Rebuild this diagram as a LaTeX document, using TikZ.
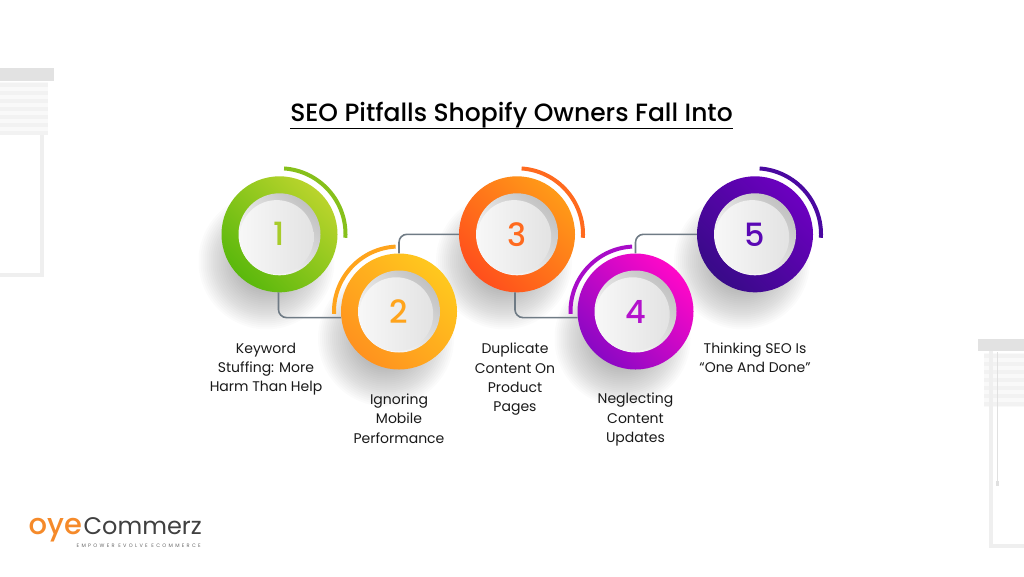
\documentclass[tikz,border=0pt]{standalone}
\usepackage{fontspec}
\setmainfont{Poppins}
\newfontfamily\medfont{Poppins Medium}
\newfontfamily\tagfont[LetterSpace=46]{Poppins}
\usetikzlibrary{backgrounds,calc}
\definecolor{linegray}{HTML}{6F7B85}
\definecolor{blindbar}{HTML}{E2E2E2}
\definecolor{blindbase}{HTML}{F9F9F9}
\definecolor{blindslat}{HTML}{F2F2F2}
\definecolor{windowgray}{HTML}{EFEFEF}
\definecolor{greenA}{HTML}{BAD42C}
\definecolor{greenB}{HTML}{5AB80C}
\definecolor{greenC}{HTML}{86C01A}
\definecolor{greenD}{HTML}{A8CC2A}
\definecolor{amberA}{HTML}{FFC81E}
\definecolor{amberB}{HTML}{FF921E}
\definecolor{amberC}{HTML}{FFA41C}
\definecolor{redA}{HTML}{FF9A18}
\definecolor{redB}{HTML}{FF4F1C}
\definecolor{redC}{HTML}{FF6A1E}
\definecolor{pinkA}{HTML}{FF08C8}
\definecolor{pinkB}{HTML}{8A08C4}
\definecolor{pinkC}{HTML}{A80CC8}
\definecolor{pinkD}{HTML}{B412CC}
\definecolor{purpleA}{HTML}{6C00C0}
\definecolor{purpleB}{HTML}{380A88}
\definecolor{purpleC}{HTML}{4A08A0}
\definecolor{purpleD}{HTML}{5A08B4}
\definecolor{logoorange}{HTML}{F58A2A}
\tikzset{
	ring/.style={circle,inner sep=0pt,minimum size=116pt},
	rim/.style={circle,inner sep=0pt,minimum size=82pt,top color=black!24,bottom color=white,shading angle=-45},
	face/.style={circle,inner sep=0pt,minimum size=74pt,left color=black!3,right color=black!11},
	digit/.style={inner sep=0pt,font=\medfont\fontsize{32}{32}\selectfont},
	link/.style={draw=linegray,line width=1.6pt,rounded corners=8pt},
	arcline/.style={line width=4pt},
	caption/.style={inner sep=0pt,align=center,text=black!90,font=\fontsize{14}{19.3}\selectfont},
	windowline/.style={draw=windowgray,line width=3.8pt}
}
\begin{document}
\begin{tikzpicture}[x=1pt,y=1pt]
		\useasboundingbox (0,0) rectangle (1024,-576);
		% title
		\node[inner sep=0pt,font=\medfont\fontsize{25}{25}\selectfont](title) at (511.5,-115.5){SEO Pitfalls Shopify Owners Fall Into};
		\draw[line width=1.5pt] (title.south west)--(title.south east);
		% rings
		\node[ring,top color=greenA,bottom color=greenB,shading angle=-45](c1) at (279.5,-234.3){};
		\node[ring,top color=amberA,bottom color=amberB,shading angle=-45](c2) at (399,-311.5){};
		\node[ring,top color=redA,bottom color=redB,shading angle=-45](c3) at (517,-234.3){};
		\node[ring,top color=pinkA,bottom color=pinkB,shading angle=-45](c4) at (635.5,-311.5){};
		\node[ring,top color=purpleA,bottom color=purpleB,shading angle=-45](c5) at (755,-234.3){};
		\node[rim](r1) at (c1){};
		\node[rim](r2) at (c2){};
		\node[rim](r3) at (c3){};
		\node[rim](r4) at (c4){};
		\node[rim](r5) at (c5){};
		\node[face](f1) at ($(c1)+(-2.8,-2.8)$){};
		\node[face](f2) at ($(c2)+(-2.8,-2.8)$){};
		\node[face](f3) at ($(c3)+(-2.8,-2.8)$){};
		\node[face](f4) at ($(c4)+(-2.8,-2.8)$){};
		\node[face](f5) at ($(c5)+(-2.8,-2.8)$){};
		\node[digit,text=greenD](n1) at (c1){1};
		\node[digit,text=amberC](n2) at (c2){2};
		\node[digit,text=redC](n3) at (c3){3};
		\node[digit,text=pinkD](n4) at (c4){4};
		\node[digit,text=purpleD](n5) at (c5){5};
		% connectors
		\draw[link] (c1.269)|-(c2.186);
		\draw[link] (c2.north)|-(c3.west);
		\draw[link] (c3.268)|-(c4.186);
		\draw[link] (c4.north)|-(c5.west);
		% arcs
		\draw[arcline,color=greenC] ($(c1)+(86:66)$) arc[start angle=86,end angle=-3,radius=66];
		\draw[arcline,color=amberC] ($(c2)+(182:65)$) arc[start angle=182,end angle=93,radius=65];
		\draw[arcline,color=redC] ($(c3)+(86:66)$) arc[start angle=86,end angle=-3,radius=66];
		\draw[arcline,color=pinkC] ($(c4)+(182:65)$) arc[start angle=182,end angle=93,radius=65];
		\draw[arcline,color=purpleC] ($(c5)+(86:66)$) arc[start angle=86,end angle=-3,radius=66];
		% captions
		\node[caption](t1) at (266,-369){Keyword\\Stuffing: More\\Harm Than Help};
		\node[caption](t2) at (399,-418.5){Ignoring\\Mobile\\Performance};
		\node[caption](t3) at (515,-379.5){Duplicate\\Content On\\Product\\Pages};
		\node[caption](t4) at (635.5,-419.5){Neglecting\\Content\\Updates};
		\node[caption](t5) at (755,-358){Thinking SEO Is\\“One And Done”};
		% logo
		\node[inner sep=0pt,anchor=base west,text=logoorange,font=\medfont\fontsize{29}{29}\selectfont](oye) at (28.5,-534.5){oye};
		\node[inner sep=0pt,anchor=base east,text=black!75,font=\fontsize{24}{24}\selectfont](brand) at (202,-534.5){Commerz};
		\node[inner sep=0pt,anchor=base east,text=black!60,font=\tagfont\fontsize{5}{6}\selectfont](tag) at (201,-547){EMPOWER EVOLVE ECOMMERCE};
		% window blinds, left and right
		\fill[blindbar] (0,-68) rectangle (54,-80.5);
		\fill[blindbar] (978,-338.5) rectangle (1024,-351);
		\fill[blindbase] (0,-82) rectangle (48,-135);
		\fill[blindbase] (984,-353) rectangle (1024,-407);
		\foreach \y in {83,91,...,131}{
			\fill[blindslat] (0,-\y) rectangle (48,-\y-4);
		}
		\foreach \y in {354,362,...,402}{
			\fill[blindslat] (984,-\y) rectangle (1024,-\y-4);
		}
		\draw[windowline] (42,-135)--(42,-275)--(0,-275);
		\draw[windowline] (991,-351)--(991,-546)--(1024,-546);
		\draw[black!12,line width=0.8pt] (997.3,-352)--(997.3,-482);
		\fill[black!12] (996,-481) rectangle (998.6,-486);
		% shadows
		\begin{scope}[on background layer]
			\foreach \n in {c1,c2,c3,c4,c5}{
				\foreach \r in {30,32,...,68}{
					\fill[black,opacity=0.017] ($(\n)+(-13,-27)$) circle (\r);
				}
			}
		\end{scope}
	\end{tikzpicture}
\end{document}
